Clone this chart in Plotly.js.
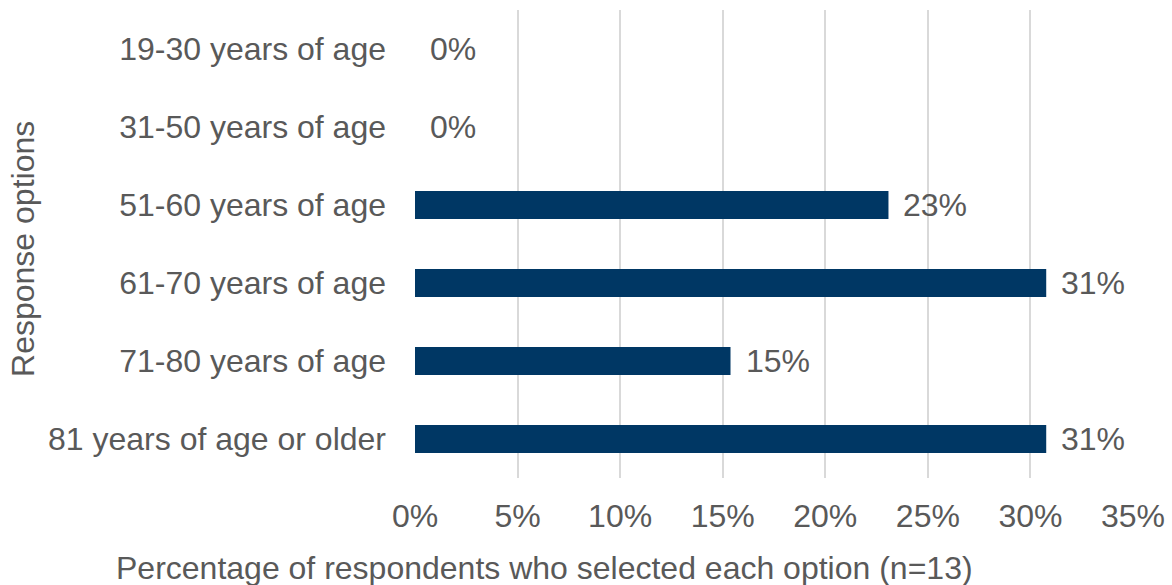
<!DOCTYPE html>
<html>
<head>
<meta charset="utf-8">
<script src="https://cdn.plot.ly/plotly-3.0.1.min.js"></script>
<style>html,body{margin:0;padding:0;background:#fff;}#chart{width:1172px;height:585px;}</style>
</head>
<body>
<div id="chart"></div>
<script>
const categories = ["19-30 years of age","31-50 years of age","51-60 years of age","61-70 years of age","71-80 years of age","81 years of age or older"];
const values = [0, 0, 23.08, 30.77, 15.38, 30.77];
const labels = ["0%","0%","23%","31%","15%","31%"];
const xTicks = [0,5,10,15,20,25,30,35];
const xTickLabels = ["0%","5%","10%","15%","20%","25%","30%","35%"];
const xTitle = "Percentage of respondents who selected each option (n=13)";
const yTitle = "Response options";

const font = "Liberation Sans, Arial, sans-serif";
const textColor = "#595959";
const fs = 32;

const trace = {
  type: "bar",
  orientation: "h",
  x: values,
  y: categories,
  marker: {color: "#003764"},
  width: 0.36,
  hoverinfo: "none"
};

const annotations = categories.map((c, i) => ({
  x: values[i], y: c, xref: "x", yref: "y",
  text: labels[i], showarrow: false, xanchor: "left", xshift: 13,
  font: {family: font, size: fs, color: textColor}
}));
annotations.push({
  x: 0.18, y: -0.192, xref: "paper", yref: "paper",
  text: xTitle, showarrow: false, xanchor: "center", yanchor: "middle",
  font: {family: font, size: fs, color: textColor}
});
annotations.push({
  x: -0.547, y: 0.49, xref: "paper", yref: "paper",
  text: yTitle, showarrow: false, textangle: -90, xanchor: "center", yanchor: "middle",
  font: {family: font, size: fs, color: textColor}
});

const layout = {
  width: 1172, height: 585,
  margin: {l: 415, r: 39, t: 10, b: 107},
  paper_bgcolor: "#fff", plot_bgcolor: "#fff",
  showlegend: false,
  font: {family: font, color: textColor, size: fs},
  xaxis: {
    range: [0, 35], tickvals: xTicks, ticktext: xTickLabels,
    showgrid: true, gridcolor: "#d9d9d9", gridwidth: 2,
    zeroline: false, showline: false, fixedrange: true,
    ticks: "", ticklabelstandoff: 16,
    tickfont: {family: font, size: fs, color: textColor},
    automargin: false
  },
  yaxis: {
    autorange: "reversed", type: "category",
    showgrid: false, zeroline: false, showline: false, fixedrange: true,
    ticks: "", ticklabelstandoff: 28,
    tickfont: {family: font, size: fs, color: textColor},
    automargin: false
  },
  annotations: annotations
};

Plotly.newPlot("chart", [trace], layout, {displayModeBar: false, staticPlot: true});
</script>
</body>
</html>
